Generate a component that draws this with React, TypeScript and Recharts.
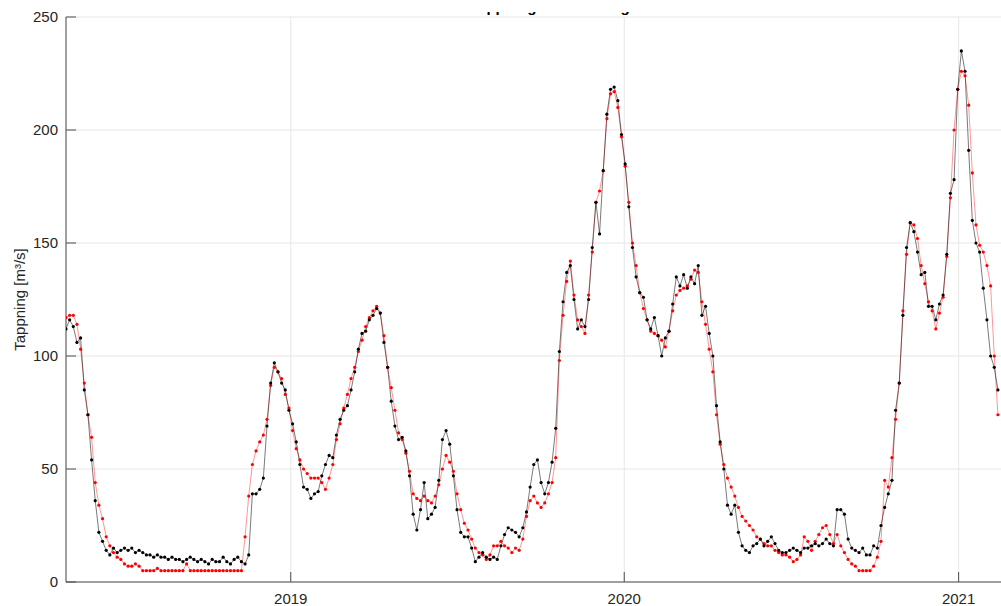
import { CartesianGrid, Line, LineChart, XAxis, YAxis } from "recharts";

// Tappning, dygnsvärden avlästa var fjärde dag från 2018-04-30
const DAY = 86400000;
const START = Date.UTC(2018, 3, 30);
const STEP_DAYS = 4;
const END = START + 1077 * DAY;

const YEAR_TICKS = [Date.UTC(2019, 0, 1), Date.UTC(2020, 0, 1), Date.UTC(2021, 0, 1)];
const Y_TICKS = [0, 50, 100, 150, 200, 250];

const tappningSvart = [
  112, 116, 113, 106, 108, 85, 74, 54, 36, 22,
  18, 14, 12, 15, 13, 14, 15, 14, 15, 13,
  14, 13, 12, 12, 11, 12, 11, 11, 10, 11,
  10, 10, 9, 10, 11, 10, 9, 10, 9, 8,
  10, 9, 9, 11, 9, 8, 10, 11, 9, 8,
  12, 39, 39, 41, 46, 69, 88, 97, 93, 88,
  85, 76, 70, 62, 52, 42, 41, 37, 39, 40,
  47, 52, 56, 55, 65, 72, 76, 78, 85, 93,
  103, 110, 111, 116, 118, 121, 119, 106, 95, 80,
  69, 63, 64, 58, 47, 30, 23, 32, 44, 28,
  30, 33, 45, 63, 67, 61, 47, 32, 22, 20,
  20, 15, 9, 11, 13, 11, 10, 11, 10, 16,
  21, 24, 23, 22, 20, 24, 31, 42, 52, 54,
  44, 39, 44, 53, 68, 102, 124, 137, 140, 125,
  112, 116, 113, 125, 148, 168, 154, 182, 207, 218,
  219, 213, 198, 185, 166, 148, 135, 128, 126, 116,
  112, 117, 109, 100, 108, 111, 123, 135, 131, 136,
  130, 135, 132, 140, 118, 122, 110, 100, 78, 62,
  50, 34, 30, 34, 22, 16, 14, 13, 16, 17,
  19, 16, 18, 20, 17, 14, 13, 13, 14, 15,
  14, 13, 15, 15, 16, 17, 16, 17, 19, 17,
  16, 32, 32, 30, 19, 15, 14, 13, 15, 12,
  12, 16, 15, 25, 33, 39, 45, 76, 88, 118,
  148, 159, 155, 146, 136, 137, 122, 122, 116, 123,
  127, 145, 172, 178, 218, 235, 226, 191, 160, 150,
  146, 130, 116, 100, 95, 85,
];

const tappningRod = [
  117, 118, 118, 114, 103, 88, 74, 64, 44, 34,
  28, 20, 16, 13, 11, 10, 8, 7, 7, 8,
  7, 5, 5, 5, 5, 6, 5, 5, 5, 5,
  5, 5, 5, 8, 5, 5, 5, 5, 5, 5,
  5, 5, 5, 5, 5, 5, 5, 5, 5, 20,
  38, 52, 58, 62, 65, 72, 87, 95, 93, 90,
  83, 77, 67, 59, 54, 50, 48, 46, 46, 46,
  44, 41, 46, 52, 63, 70, 77, 83, 90, 95,
  102, 107, 113, 117, 120, 122, 119, 109, 95, 86,
  76, 66, 63, 57, 49, 39, 37, 36, 38, 36,
  35, 38, 43, 50, 56, 53, 49, 39, 32, 26,
  23, 19, 15, 13, 12, 10, 12, 16, 16, 18,
  16, 15, 13, 15, 14, 19, 29, 36, 38, 35,
  33, 35, 39, 44, 55, 98, 118, 133, 142, 127,
  116, 113, 110, 127, 146, 168, 173, 182, 205, 216,
  217, 210, 197, 184, 168, 150, 140, 128, 121, 116,
  111, 110, 109, 107, 104, 111, 120, 127, 129, 130,
  131, 134, 138, 137, 124, 114, 103, 93, 74, 61,
  52, 46, 42, 38, 33, 29, 27, 25, 23, 20,
  19, 17, 16, 16, 14, 13, 12, 12, 11, 9,
  10, 12, 20, 18, 14, 18, 21, 24, 25, 21,
  17, 21, 16, 13, 10, 8, 7, 5, 5, 5,
  5, 7, 11, 18, 45, 42, 55, 72, 88, 120,
  145, 159, 158, 152, 140, 132, 124, 120, 112, 119,
  126, 144, 170, 200, 218, 226, 224, 211, 181, 158,
  149, 146, 140, 131, 100, 74,
];

const data = tappningSvart.map((v, i) => ({
  t: START + i * STEP_DAYS * DAY,
  svart: v,
  rod: tappningRod[i],
}));

const FONT = "'Liberation Sans', Arial, Helvetica, sans-serif";
const TEXT = "#262626";
const AXIS = "#4d4d4d";

export default function App() {
  return (
    <div
      style={{
        position: "absolute",
        left: 0,
        top: 0,
        width: 1001,
        height: 606,
        overflow: "hidden",
        background: "#fff",
        fontFamily: FONT,
      }}
    >
      {/* titeln är avskuren i originalet, bara underhängen syns */}
      <div style={{ position: "absolute", left: 470, top: 12, height: 5, width: 300, overflow: "hidden" }}>
        <div
          style={{
            position: "absolute",
            top: -13,
            left: 0,
            fontSize: 15,
            lineHeight: "15px",
            fontWeight: 700,
            color: "#000",
            whiteSpace: "nowrap",
          }}
        >
          Tappning och mätning
        </div>
      </div>
      <div style={{ position: "absolute", left: 0, top: 0 }}>
        <LineChart
          width={1060}
          height={606}
          data={data}
          margin={{ top: 17, right: 10, left: 0, bottom: 0 }}
          style={{ fontFamily: FONT }}
        >
          <CartesianGrid stroke="#e6e6e6" strokeWidth={1} />
          <XAxis
            dataKey="t"
            type="number"
            scale="time"
            domain={[START, END]}
            ticks={YEAR_TICKS}
            tickFormatter={(v: number) => String(new Date(v).getUTCFullYear())}
            height={24}
            tickSize={-10}
            tickMargin={21}
            tickLine={{ stroke: AXIS }}
            axisLine={{ stroke: AXIS }}
            tick={{ fontSize: 15, fill: TEXT }}
            allowDataOverflow
          />
          <XAxis
            xAxisId="top"
            orientation="top"
            type="number"
            scale="time"
            domain={[START, END]}
            ticks={YEAR_TICKS}
            tickFormatter={() => ""}
            height={0}
            tickSize={-10}
            tickLine={{ stroke: AXIS }}
            axisLine={{ stroke: AXIS }}
            allowDataOverflow
          />
          <YAxis
            type="number"
            domain={[0, 250]}
            ticks={Y_TICKS}
            width={66}
            tickSize={-10}
            tickMargin={18}
            tickLine={{ stroke: AXIS }}
            axisLine={{ stroke: AXIS }}
            tick={{ fontSize: 15, fill: TEXT }}
            label={{
              value: "Tappning [m³/s]",
              angle: -90,
              position: "insideLeft",
              offset: 20,
              style: { textAnchor: "middle", fontSize: 15, fill: TEXT },
            }}
          />
          <Line
            type="linear"
            dataKey="rod"
            stroke="#ff0000"
            strokeWidth={0.6}
            strokeOpacity={0.7}
            dot={{ r: 1.6, fill: "#ff0000", strokeWidth: 0 }}
            activeDot={false}
            isAnimationActive={false}
          />
          <Line
            type="linear"
            dataKey="svart"
            stroke="#000000"
            strokeWidth={0.7}
            strokeOpacity={0.75}
            dot={{ r: 1.6, fill: "#000000", strokeWidth: 0 }}
            activeDot={false}
            isAnimationActive={false}
          />
        </LineChart>
      </div>
    </div>
  );
}
